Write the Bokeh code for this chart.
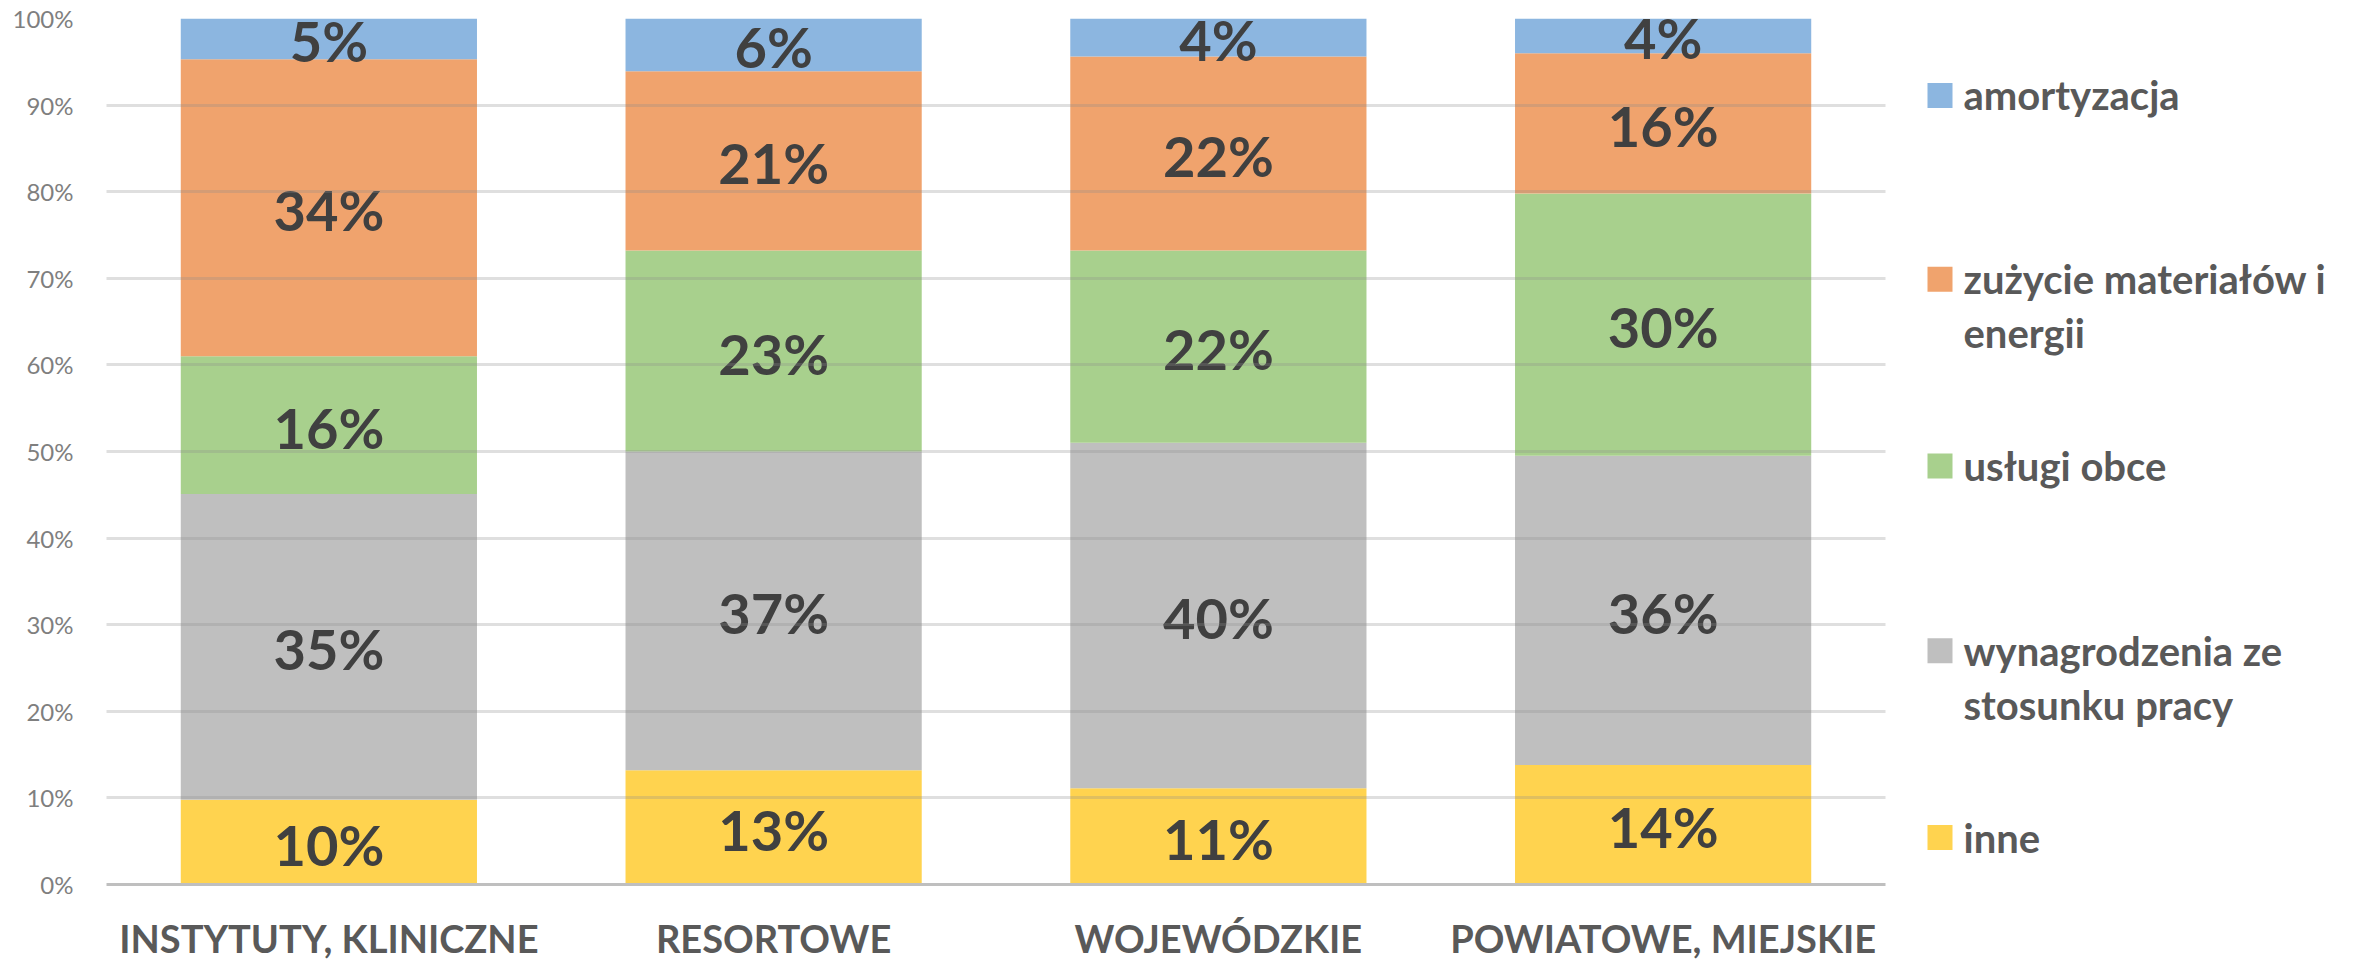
import numpy as np
from bokeh.plotting import figure
from bokeh.models import (ColumnDataSource, FactorRange, Range1d, FixedTicker,
                          PrintfTickFormatter, LabelSet)
from bokeh.layouts import row
from bokeh.core.properties import value
from bokeh.embed import file_html
from bokeh.resources import INLINE

# ---- data ----
categories = ["INSTYTUTY, KLINICZNE", "RESORTOWE", "WOJEWÓDZKIE", "POWIATOWE, MIEJSKIE"]
series_keys = ["inne", "wynagrodzenia", "uslugi", "zuzycie", "amortyzacja"]
series_labels = ["inne", "wynagrodzenia ze stosunku pracy", "usługi obce",
                 "zużycie materiałów i energii", "amortyzacja"]
inne = [9.8, 13.2, 11.1, 13.8]
wynagrodzenia = [35.3, 36.8, 39.9, 35.7]
uslugi = [15.9, 23.2, 22.2, 30.3]
zuzycie = [34.3, 20.7, 22.4, 16.2]
amortyzacja = [4.7, 6.1, 4.4, 4.0]
colors = ["#FFD34F", "#BFBFBF", "#A8D08D", "#F0A36D", "#8CB6E0"]
y_ticks = [0, 10, 20, 30, 40, 50, 60, 70, 80, 90, 100]

FONT = "Lato"
LABEL_COLOR = "#404040"
TEXT_COLOR = "#595959"
TOP, BOTTOM = 18, 78
H = 963

data = {"cat": categories, "inne": inne, "wynagrodzenia": wynagrodzenia,
        "uslugi": uslugi, "zuzycie": zuzycie, "amortyzacja": amortyzacja}
source = ColumnDataSource(data)

p = figure(x_range=FactorRange(*categories), y_range=Range1d(0, 100),
           width=1895, height=H, output_backend="svg", toolbar_location=None,
           min_border_left=106, min_border_right=10, min_border_top=TOP, min_border_bottom=BOTTOM)
p.outline_line_color = None
p.background_fill_color = "white"

p.vbar_stack(series_keys, x="cat", width=0.666, color=colors, source=source, line_color=None)

# data labels
vals = np.array([inne, wynagrodzenia, uslugi, zuzycie, amortyzacja])
tops = np.cumsum(vals, axis=0)
mids = tops - vals / 2.0
lx, ly, lt = [], [], []
for i in range(vals.shape[0]):
    for j, c in enumerate(categories):
        lx.append(c)
        ly.append(mids[i, j])
        lt.append(f"{int(vals[i, j] + 0.5)}%")
lab_src = ColumnDataSource(dict(x=lx, y=ly, t=lt))
p.add_layout(LabelSet(x="x", y="y", text="t", source=lab_src, y_offset=-2,
                      text_align="center", text_baseline="middle",
                      text_font=value(FONT), text_font_style="bold", text_font_size="56px",
                      text_color=LABEL_COLOR))

# axes
p.yaxis.ticker = FixedTicker(ticks=y_ticks)
p.yaxis.formatter = PrintfTickFormatter(format="%d%%")
p.yaxis.axis_line_color = None
p.yaxis.major_tick_line_color = None
p.yaxis.minor_tick_line_color = None
p.yaxis.major_label_text_font = FONT
p.yaxis.major_label_text_font_size = "24px"
p.yaxis.major_label_text_color = "#7F7F7F"
p.yaxis.major_label_standoff = 27

p.xaxis.axis_line_color = "#BFBFBF"
p.xaxis.axis_line_width = 3
p.xaxis.major_tick_line_color = None
p.xaxis.minor_tick_line_color = None
p.xaxis.major_label_text_font = FONT
p.xaxis.major_label_text_font_style = "bold"
p.xaxis.major_label_text_font_size = "38px"
p.xaxis.major_label_text_color = TEXT_COLOR
p.xaxis.major_label_standoff = 24

p.xgrid.grid_line_color = None
p.ygrid.grid_line_color = "#8C8C8C"
p.ygrid.grid_line_alpha = 0.28
p.ygrid.grid_line_width = 3
p.ygrid.level = "overlay"

# legend panel (coordinates = page pixels, frame aligned with main frame)
LW = 473
lg = figure(width=LW, height=H, x_range=Range1d(1895, 1895 + LW), y_range=Range1d(H - BOTTOM, TOP),
            output_backend="svg", toolbar_location=None,
            min_border_left=0, min_border_right=0, min_border_top=TOP, min_border_bottom=BOTTOM,
            x_axis_location=None, y_axis_location=None)
lg.outline_line_color = None
lg.grid.visible = False

legend_order = [4, 3, 2, 1, 0]
legend_lines = {4: ["amortyzacja"], 3: ["zużycie materiałów i", "energii"],
                2: ["usługi obce"], 1: ["wynagrodzenia ze", "stosunku pracy"], 0: ["inne"]}
first_line_y = [95, 279, 466, 651, 838]
line_h = 54
sq_x, sq_y, sq_c, tx, ty, tt = [], [], [], [], [], []
for k, idx in enumerate(legend_order):
    y0 = first_line_y[k]
    sq_x.append(1939.5)
    sq_y.append(y0)
    sq_c.append(colors[idx])
    for n, line in enumerate(legend_lines[idx]):
        tx.append(1963)
        ty.append(y0 + n * line_h)
        tt.append(line)
lg.rect(x=sq_x, y=sq_y, width=25, height=25, width_units="screen", height_units="screen",
        fill_color=sq_c, line_color=None)
lg.text(x=tx, y=ty, text=tt, text_align="left", text_baseline="middle",
        text_font=value(FONT), text_font_style="bold", text_font_size="40px",
        text_color=TEXT_COLOR)

layout = row(p, lg)
open("out.html", "w").write(file_html(layout, INLINE))
